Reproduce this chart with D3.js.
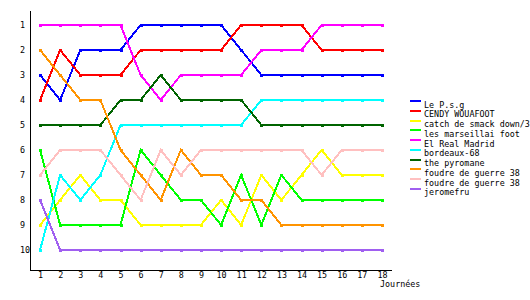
<!DOCTYPE html>
<html>
<head>
<meta charset="utf-8">
<script src="https://cdn.jsdelivr.net/npm/d3@7"></script>
<style>
  body { margin: 0; background: #fff; }
  text { font-family: 'DejaVu Sans Mono', monospace; font-size: 8.4px; fill: #000; }
</style>
</head>
<body>
<div id="chart"></div>
<script>
// Days (journées) and tick labels
var days = d3.range(1, 19);
var rankTicks = d3.range(1, 11);

// Teams and their colours, in legend order
var teams = [
  'Le P.s.g', 'CENDY WOUAFOOT', 'catch de smack down/3', 'les marseillai foot',
  'El Real Madrid', 'bordeaux-68', 'the pyromane', 'foudre de guerre 38',
  'foudre de guerre 38', 'jeromefru'
];
var colors = [
  '#0000ff', '#ff0000', '#ffff00', '#00ff00', '#ff00ff',
  '#00ffff', '#006400', '#ff9400', '#ffc0c0', '#a05ff0'
];

// Ranking of each team per day
var psg       = [3, 4, 2, 2, 2, 1, 1, 1, 1, 1, 2, 3, 3, 3, 3, 3, 3, 3];
var cendy     = [4, 2, 3, 3, 3, 2, 2, 2, 2, 2, 1, 1, 1, 1, 2, 2, 2, 2];
var catchSmack= [9, 8, 7, 8, 8, 9, 9, 9, 9, 8, 9, 7, 8, 7, 6, 7, 7, 7];
var marseill  = [6, 9, 9, 9, 9, 6, 7, 8, 8, 9, 7, 9, 7, 8, 8, 8, 8, 8];
var realMad   = [1, 1, 1, 1, 1, 3, 4, 3, 3, 3, 3, 2, 2, 2, 1, 1, 1, 1];
var bordeaux  = [10, 7, 8, 7, 5, 5, 5, 5, 5, 5, 5, 4, 4, 4, 4, 4, 4, 4];
var pyromane  = [5, 5, 5, 5, 4, 4, 3, 4, 4, 4, 4, 5, 5, 5, 5, 5, 5, 5];
var foudreA   = [2, 3, 4, 4, 6, 7, 8, 6, 7, 7, 8, 8, 9, 9, 9, 9, 9, 9];
var foudreB   = [7, 6, 6, 6, 7, 8, 6, 7, 6, 6, 6, 6, 6, 6, 7, 6, 6, 6];
var jerome    = [8, 10, 10, 10, 10, 10, 10, 10, 10, 10, 10, 10, 10, 10, 10, 10, 10, 10];

var series = [psg, cendy, catchSmack, marseill, realMad, bordeaux, pyromane, foudreA, foudreB, jerome];

var width = 530, height = 300;

var svg = d3.select('#chart').append('svg')
  .attr('width', width)
  .attr('height', height);

var x = d3.scaleLinear().domain([0.5, 18.45]).range([30, 391]);
var y = d3.scaleLinear().domain([0.4, 10.8]).range([10, 270]);

// Axes
var xAxis = d3.axisBottom(x).tickValues(days).tickSize(0).tickPadding(2);
var yAxis = d3.axisLeft(y).tickValues(rankTicks).tickSize(0);

var gx = svg.append('g')
  .attr('transform', 'translate(0,' + y.range()[1] + ')')
  .call(xAxis);
gx.selectAll('text').attr('dy', '0.71em');

var gy = svg.append('g')
  .attr('transform', 'translate(' + x.range()[0] + ',0)')
  .call(yAxis);
gy.selectAll('text').attr('text-anchor', 'start').attr('x', -10);

svg.selectAll('.domain')
  .attr('stroke', '#000')
  .attr('shape-rendering', 'crispEdges');
svg.selectAll('.tick text')
  .style('font-family', "'DejaVu Sans Mono', monospace")
  .style('font-size', '8.4px');

svg.append('text')
  .attr('x', 380)
  .attr('y', 287)
  .text('Journées');

// Lines
var line = d3.line()
  .x(function(d, i) { return x(days[i]); })
  .y(function(d) { return y(d); });

var teamG = svg.selectAll('.team').data(series).enter()
  .append('g')
  .classed('team', true);

teamG.append('path')
  .attr('d', line)
  .attr('fill', 'none')
  .attr('stroke', function(d, i) { return colors[i]; })
  .attr('stroke-width', 2)
  .attr('shape-rendering', 'crispEdges');

// small square markers on every day
teamG.each(function(s, k) {
  d3.select(this).selectAll('rect').data(s).enter()
    .append('rect')
    .attr('x', function(d, i) { return Math.round(x(days[i])) - 1.5; })
    .attr('y', function(d) { return Math.round(y(d)) - 1.5; })
    .attr('width', 3)
    .attr('height', 3)
    .attr('fill', colors[k])
    .attr('shape-rendering', 'crispEdges');
});

// Legend
var legend = svg.selectAll('.legend').data(teams).enter()
  .append('g')
  .classed('legend', true)
  .attr('transform', function(d, i) { return 'translate(410,' + (101 + i * 9.75) + ')'; });

legend.append('line')
  .attr('x1', 0).attr('x2', 11)
  .attr('y1', 0).attr('y2', 0)
  .attr('stroke', function(d, i) { return colors[i]; })
  .attr('stroke-width', 2)
  .attr('shape-rendering', 'crispEdges');

legend.append('text')
  .attr('x', 14)
  .attr('y', 6.5)
  .text(function(d) { return d; });
</script>
</body>
</html>
